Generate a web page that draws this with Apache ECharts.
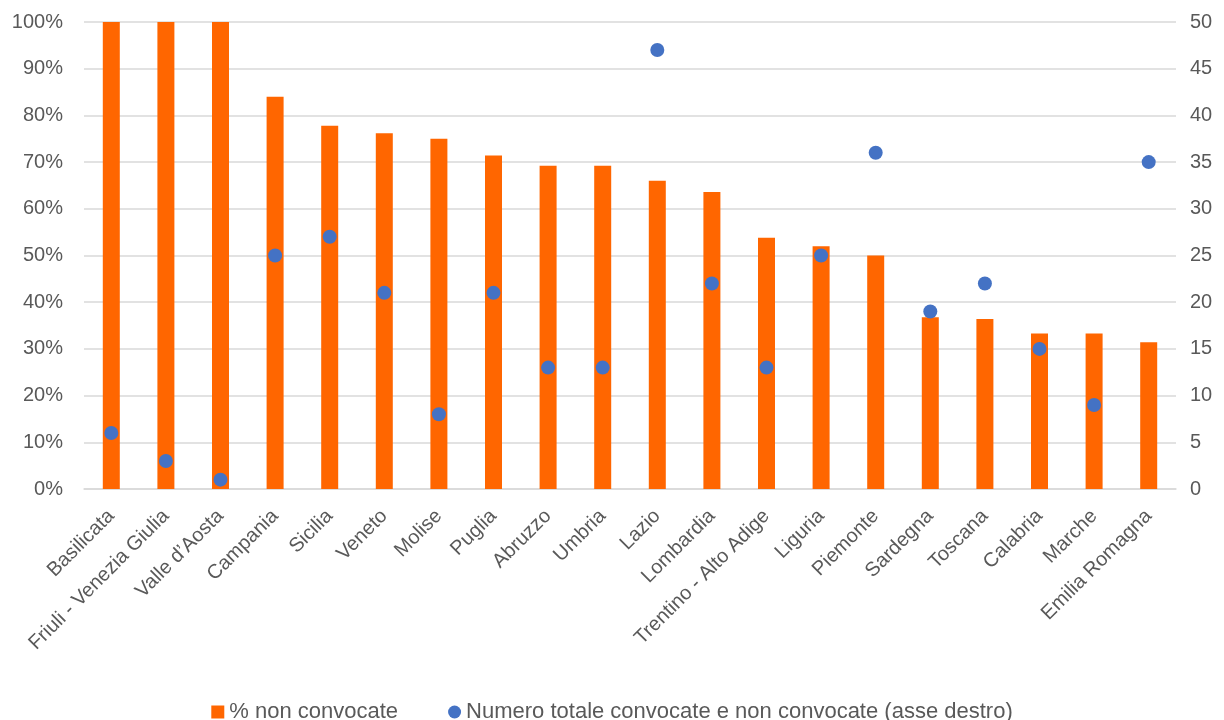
<!DOCTYPE html>
<html><head><meta charset="utf-8">
<script src="https://cdn.jsdelivr.net/npm/echarts@6/dist/echarts.min.js"></script>
<style>html,body{margin:0;padding:0;background:#fff}#c{width:1224px;height:720px}</style>
</head><body><div id="c"></div>
<script>
const categories = ["Basilicata","Friuli - Venezia Giulia","Valle d\u2019Aosta","Campania","Sicilia","Veneto","Molise","Puglia","Abruzzo","Umbria","Lazio","Lombardia","Trentino - Alto Adige","Liguria","Piemonte","Sardegna","Toscana","Calabria","Marche","Emilia Romagna"];
const pctNonConvocate = [100,100,100,84.0,77.8,76.2,75.0,71.4,69.2,69.2,66.0,63.6,53.8,52.0,50.0,36.8,36.4,33.3,33.3,31.4];
const totale = [6,3,1,25,27,21,8,21,13,13,47,22,13,25,36,19,22,15,9,35];
const leftTicks = [0,10,20,30,40,50,60,70,80,90,100];
const rightTicks = [0,5,10,15,20,25,30,35,40,45,50];

const font = "Liberation Sans";
const chart = echarts.init(document.getElementById('c'));
chart.setOption({
  animation:false,
  textStyle:{fontFamily:font},
  grid:{left:84,right:48,top:22,bottom:231,containLabel:false},
  legend:{
    top:696, left:'center', itemGap:50, itemWidth:13, itemHeight:13,
    textStyle:{fontSize:22,color:'#595959',fontFamily:font},
    data:[{name:'% non convocate',icon:'rect'},{name:'Numero totale convocate e non convocate (asse destro)',icon:'circle'}]
  },
  xAxis:{
    type:'category', data:categories,
    axisLine:{show:true,lineStyle:{color:'#d9d9d9',width:1.5}},
    axisTick:{show:false},
    axisLabel:{rotate:45,interval:0,fontSize:20,color:'#595959',margin:24,fontFamily:font}
  },
  yAxis:[{
    type:'value',min:0,max:100,interval:10,
    axisLabel:{formatter:v=>v+'%',fontSize:20,color:'#595959',margin:21,fontFamily:font},
    splitLine:{lineStyle:{color:'#d9d9d9',width:1.5}},
    axisLine:{show:false},axisTick:{show:false}
  },{
    type:'value',min:0,max:50,interval:5,position:'right',
    axisLabel:{fontSize:20,color:'#595959',margin:14,fontFamily:font},
    splitLine:{show:false},axisLine:{show:false},axisTick:{show:false}
  }],
  series:[{
    name:'% non convocate',type:'bar',data:pctNonConvocate,barWidth:17,
    itemStyle:{color:'#ff6600'},yAxisIndex:0
  },{
    name:'Numero totale convocate e non convocate (asse destro)',type:'scatter',data:totale,
    yAxisIndex:1,symbolSize:14,itemStyle:{color:'#4472c4',opacity:1}
  }]
});
</script></body></html>
